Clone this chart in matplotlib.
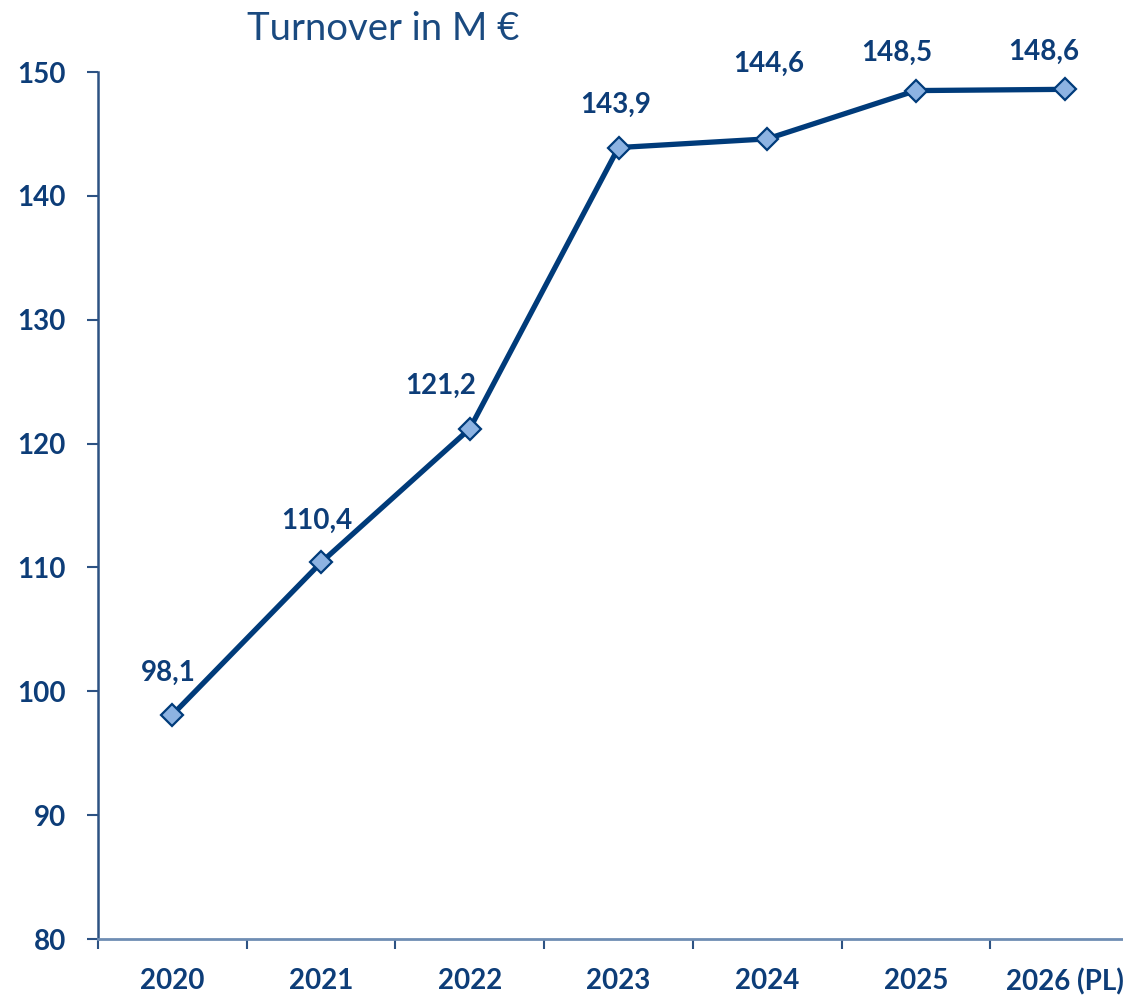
import matplotlib
matplotlib.use("Agg")
import matplotlib.pyplot as plt

years = ["2020", "2021", "2022", "2023", "2024", "2025", "2026 (PL)"]
turnover = [98.1, 110.4, 121.2, 143.9, 144.6, 148.5, 148.6]
labels = ["98,1", "110,4", "121,2", "143,9", "144,6", "148,5", "148,6"]
yticks = [80, 90, 100, 110, 120, 130, 140, 150]

# label offsets in points (styling)
label_offsets = [(-3, 30), (-3, 30), (-21, 31), (-2, 31), (1, 54), (-14, 27), (-15, 27)]

NAVY = "#003b7a"
TEXT = "#0d3d78"
FACE = "#8db3e2"
FS = 20

plt.rcParams['font.family'] = ['Lato', 'DejaVu Sans']

W, H = 1123, 997
fig = plt.figure(figsize=(W / 100, H / 100), dpi=100)
left, right, top, bottom = 98, 1139, 72, 939
ax = fig.add_axes([left / W, 1 - bottom / H, (right - left) / W, (bottom - top) / H])

x = list(range(len(years)))
ax.plot(x, turnover, color=NAVY, lw=3.8, marker='D', markersize=11.5,
        markerfacecolor=FACE, markeredgecolor=NAVY, markeredgewidth=1.6,
        solid_joinstyle='miter', zorder=3, clip_on=False)

for xi, yi, lab, (dx, dy) in zip(x, turnover, labels, label_offsets):
    ax.annotate(lab, (xi, yi), xytext=(dx, dy), textcoords='offset points',
                ha='center', va='center', fontsize=FS, fontweight='bold', color=TEXT)

ax.set_xlim(-0.5, len(years) - 0.5)
ax.set_ylim(80, 150)
ax.set_yticks(yticks)
ax.set_yticklabels([str(v) for v in yticks])
ax.set_xticks(x)
ax.set_xticklabels(years)
ax.set_xticks([i - 0.5 for i in range(len(years) + 1)], minor=True)

ax.tick_params(axis='y', direction='out', length=8, width=1.5, color='#2d5283',
               pad=15, labelsize=FS, labelcolor=TEXT)
ax.tick_params(axis='x', which='major', length=0, pad=21, labelsize=FS, labelcolor=TEXT)
ax.tick_params(axis='x', which='minor', direction='out', length=7, width=1.5, color='#2d5283')
for t in ax.get_xticklabels() + ax.get_yticklabels():
    t.set_fontweight('bold')

for s in ['top', 'right']:
    ax.spines[s].set_visible(False)
ax.spines['left'].set_color('#2d5283')
ax.spines['left'].set_linewidth(1.8)
ax.spines['bottom'].set_color('#6f8db3')
ax.spines['bottom'].set_linewidth(2)

fig.text(383 / W, 1 - 29 / H, "Turnover in M €", ha='center', va='center',
         fontsize=27.5, color='#1a4a80')

fig.savefig("out.png", dpi=100)
